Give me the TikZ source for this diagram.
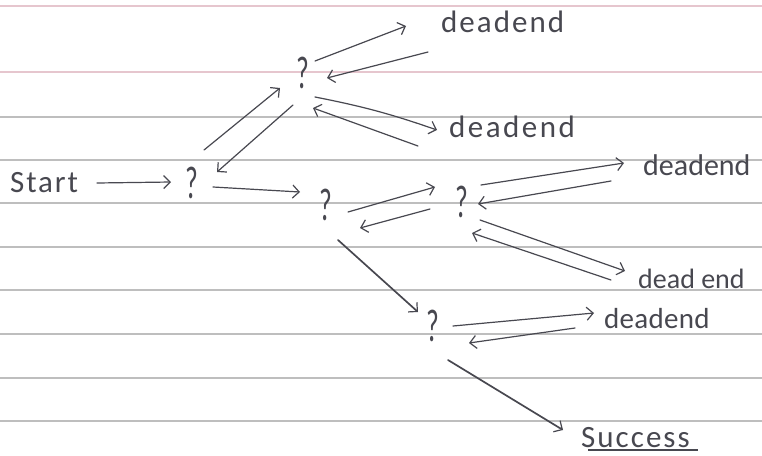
\documentclass[tikz,border=0pt]{standalone}
\usepackage{fontspec}
\setmainfont{Carlito}
\usetikzlibrary{arrows.meta,calc}

\definecolor{ink}{RGB}{72,72,80}
\definecolor{rulegray}{RGB}{190,190,190}
\definecolor{rulepink}{RGB}{230,198,206}

\tikzset{
  ruling/.style={draw=rulegray, line width=1.3pt},
  pinkruling/.style={draw=rulepink, line width=1.3pt},
  choice/.style={inner sep=0pt, text=ink, font=\fontsize{46}{46}\selectfont},
  word/.style={inner sep=0pt, anchor=base west, text=ink, font=\fontsize{31}{31}\selectfont},
  move/.style={draw=ink, line width=1.2pt, line cap=round,
    -{Straight Barb[length=6.5pt,width=13pt,line width=1.2pt]}},
  heavy/.style={line width=1.7pt},
}

\begin{document}
\begin{tikzpicture}[x=1pt,y=-1pt]
  % page of ruled paper
  \fill[white] (0,0) rectangle (762,455);
  \useasboundingbox (0,0) rectangle (762,455);
  \foreach \yy in {6,72} \draw[pinkruling] (0,\yy) -- (762,\yy);
  \foreach \yy in {117,160,203,247,290,334,378,421} \draw[ruling] (0,\yy) -- (762,\yy);

  % decision points
  \node[choice] (q1) at (192,183) {\scalebox{0.6}[1]{?}};
  \node[choice] (q2) at (303,73)  {\scalebox{0.6}[1]{?}};
  \node[choice] (q3) at (326,205) {\scalebox{0.6}[1]{?}};
  \node[choice] (q4) at (462,202) {\scalebox{0.6}[1]{?}};
  \node[choice] (q5) at (433,326) {\scalebox{0.6}[1]{?}};

  % labels
  \node[word] (st) at (10,192)  {\addfontfeatures{LetterSpace=6}Start};
  \node[word] (d1) at (441,32)  {\addfontfeatures{LetterSpace=6.5}deadend};
  \node[word] (d2) at (449,137) {\addfontfeatures{LetterSpace=8}deadend};
  \node[word, font=\fontsize{30}{30}\selectfont] (d3) at (643,175) {deadend};
  \node[word, font=\fontsize{28}{28}\selectfont] (d4) at (638,288) {dead end};
  \node[word, font=\fontsize{29}{29}\selectfont] (d5) at (604,328) {\addfontfeatures{LetterSpace=1}deadend};
  \node[word] (sc) at (581,447) {\addfontfeatures{LetterSpace=6.5}Success};
  \draw[ink, line width=1.2pt] ($(sc.base west)+(7,3)$) -- ($(sc.base west)+(117,3)$);

  % moves forward and back
  \draw[move] ($(st.base west)+(87,-9)$) -- ($(q1)+(-21,-1)$);
  \draw[move] ($(q1)+(12,-33)$) -- ($(q2)+(-23,15)$);
  \draw[move] ($(q2)+(-10,32)$) -- ($(q1)+(25,-11)$);
  \draw[move] ($(q1)+(21,4)$) -- ($(q3)+(-26,-13)$);

  \draw[move] ($(q2)+(12,-12)$) -- ($(d1.base west)+(-35,-6)$);
  \draw[move] ($(d1.base west)+(-13,20)$) -- ($(q2)+(24,5)$);
  \draw[move] ($(q2)+(12,24)$) to[bend left=4] ($(d2.base west)+(-12,-7)$);
  \draw[move] ($(d2.base west)+(-31,9)$) -- ($(q2)+(10,35)$);

  \draw[move] ($(q3)+(22,7)$) -- ($(q4)+(-27,-15)$);
  \draw[move] ($(q4)+(-32,7)$) -- ($(q3)+(34,23)$);

  \draw[move] ($(q4)+(19,-17)$) -- ($(d3.base west)+(-19,-12)$);
  \draw[move] ($(d3.base west)+(-32,6)$) -- ($(q4)+(16,2)$);
  \draw[move] ($(q4)+(18,18)$) -- ($(d4.base west)+(-13,-17)$);
  \draw[move] ($(d4.base west)+(-27,-8)$) -- ($(q4)+(10,31)$);

  \draw[move, heavy] ($(q3)+(12,35)$) -- ($(q5)+(-15,-14)$);
  \draw[move] ($(q5)+(20,0)$) -- ($(d5.base west)+(-10,-15)$);
  \draw[move] ($(d5.base west)+(-29,0)$) -- ($(q5)+(36,17)$);
  \draw[move, heavy] ($(q5)+(15,34)$) -- ($(sc.base west)+(-18,-17)$);
\end{tikzpicture}
\end{document}
